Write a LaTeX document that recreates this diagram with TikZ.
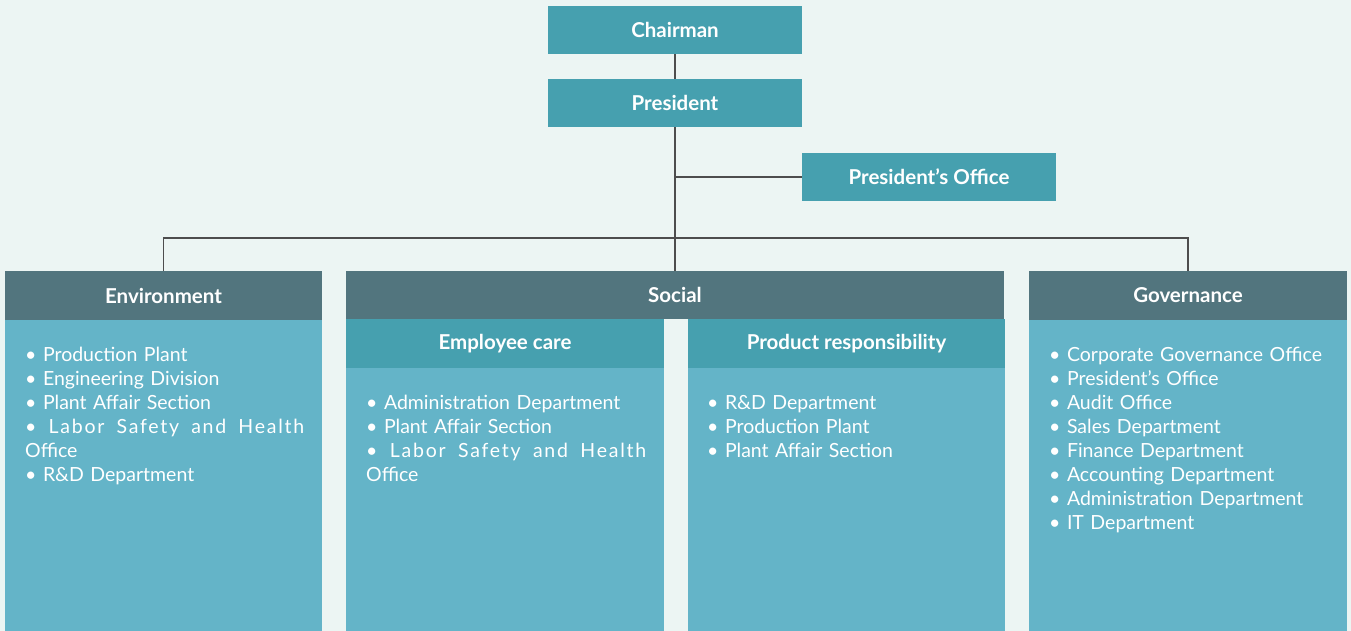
\documentclass[tikz,border=0pt]{standalone}
\usepackage{fontspec}
\setmainfont{Lato}
\definecolor{bgc}{HTML}{ECF5F3}
\definecolor{topc}{HTML}{46A0AF}
\definecolor{hdrc}{HTML}{52757E}
\definecolor{bodyc}{HTML}{64B4C8}
\definecolor{linec}{HTML}{4D4D4D}
\newcommand{\spreadline}[1]{\makebox[#1][l]{\addfontfeature{LetterSpace=9}•\hfill Labor\hfill Safety\hfill and\hfill Health}}
\begin{document}
\begin{tikzpicture}[x=1pt,y=-1pt,
  topbox/.style={fill=topc, text=white, font=\bfseries\fontsize{20.5}{22}\selectfont, inner sep=0pt, minimum width=254pt, minimum height=48pt},
  hdrbox/.style={fill=hdrc, text=white, font=\bfseries\fontsize{20.5}{22}\selectfont, inner sep=0pt, minimum height=49pt},
  subbox/.style={fill=topc, text=white, font=\bfseries\fontsize{20.5}{22}\selectfont, inner sep=0pt, minimum height=49pt, minimum width=318pt},
  bodybox/.style={fill=bodyc, inner sep=0pt},
  items/.style={text=white, font=\fontsize{19.5}{24}\selectfont, align=left, inner sep=0pt, anchor=base west},
  conn/.style={draw=linec, line width=1.4pt}]
\fill[bgc] (0,0) rectangle (1351,631);
\useasboundingbox (0,0) rectangle (1351,631);

\node[topbox] (chairman) at (675,30) {Chairman};
\node[topbox] (president) at (675,103) {President};
\node[topbox] (office) at (929,177) {President’s Office};

\node[hdrbox, minimum width=317pt] (envh) at (163.5,295.5) {Environment};
\node[bodybox, minimum width=317pt, minimum height=311pt] (envb) at (163.5,475.5) {};
\node[hdrbox, minimum width=658pt, minimum height=48pt] (socialh) at (675,295) {Social};
\node[subbox] (emph) at (505,343.5) {Employee care};
\node[bodybox, minimum width=318pt, minimum height=263pt] (empb) at (505,499.5) {};
\node[subbox, minimum width=317pt] (prodh) at (846.5,343.5) {Product responsibility};
\node[bodybox, minimum width=317pt, minimum height=263pt] (prodb) at (846.5,499.5) {};
\node[hdrbox, minimum width=318pt] (govh) at (1188,295.5) {Governance};
\node[bodybox, minimum width=318pt, minimum height=311pt] (govb) at (1188,475.5) {};

\node[items, text width=290pt] (envt) at (25,361) {• Production Plant\\• Engineering Division\\• Plant Affair Section\\\spreadline{279pt}\\Office\\• R\&D Department};
\node[items, text width=290pt] (empt) at (366,409) {• Administration Department\\• Plant Affair Section\\\spreadline{280pt}\\Office};
\node[items, text width=290pt] (prodt) at (707,409) {• R\&D Department\\• Production Plant\\• Plant Affair Section};
\node[items, text width=295pt] (govt) at (1049,361) {• Corporate Governance Office\\• President’s Office\\• Audit Office\\• Sales Department\\• Finance Department\\• Accounting Department\\• Administration Department\\• IT Department};

\coordinate (bus) at (675,238);
\draw[conn] (chairman) -- (president);
\draw[conn] (president.south) -- (socialh.north);
\draw[conn] (office.west) -- (office.west -| president.south);
\draw[conn] (envh.north) |- (bus) -| (govh.north);
\end{tikzpicture}
\end{document}
